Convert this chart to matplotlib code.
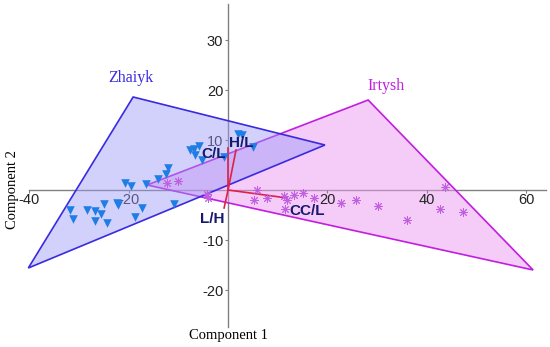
import matplotlib
matplotlib.use("Agg")
import matplotlib.pyplot as plt
from matplotlib.patches import Polygon

plt.rcParams['axes.unicode_minus'] = False

# PCA scores
zhaiyk_x = [-31.9, -31.2, -28.3, -26.8, -25.6, -26.8, -24.4, -24.9, -22.4, -22.1,
            -20.7, -19.6, -18.7, -17.4, -16.6, -14.0, -12.5, -12.0, -10.9, -7.6,
            -6.8, -5.8, -6.6, -5.3, -0.9, 2.1, 2.8, 5.1]
zhaiyk_y = [-3.9, -5.7, -4.0, -4.2, -4.7, -6.2, -6.5, -2.7, -2.5, -3.0,
            1.5, 0.9, -5.3, -3.5, 1.2, 2.3, 3.3, 4.5, -2.7, 8.0,
            8.3, 8.9, 7.1, 6.0, 6.7, 11.3, 11.0, 8.7]

irtysh_x = [-12.3, -10.1, -4.3, -4.0, 5.8, 5.2, 7.8, 11.2, 11.9, 11.5,
            13.3, 15.1, 17.3, 22.7, 25.7, 30.2, 36.1, 42.7, 43.7, 47.2]
irtysh_y = [1.5, 1.9, -0.7, -1.5, 0.1, -1.9, -1.6, -1.2, -1.9, -3.7,
            -1.0, -0.5, -1.6, -2.5, -2.0, -3.2, -5.9, -3.7, 0.7, -4.4]

# convex hulls
zhaiyk_hull = [(-40.2, -15.6), (-19.1, 18.6), (19.5, 9.0)]
irtysh_hull = [(-16.3, 1.0), (28.2, 18.0), (61.4, -16.0)]

# loadings
load_names = ["C/L", "H/L", "L/H", "CC/L"]
load_x = [0.0, 1.6, -0.8, 11.9]
load_y = [8.4, 8.0, -3.6, -1.6]
label_pos = [(-3.0, 7.2), (2.6, 9.4), (-3.2, -5.8), (16.0, -4.2)]

xticks = [-40, -20, 20, 40, 60]
yticks = [-20, -10, 10, 20, 30]

fig = plt.figure(figsize=(5.5, 3.47), dpi=100)
ax = fig.add_axes([0, 0, 1, 1])
ax.set_xlim(-45.9, 64.8)
ax.set_ylim(-31.4, 38.0)

ax.add_patch(Polygon(irtysh_hull, closed=True, facecolor=(0.93, 0.6, 0.95, 0.5),
                     edgecolor='#c21ee0', linewidth=1.2, zorder=1))
ax.add_patch(Polygon(zhaiyk_hull, closed=True, facecolor=(0.6, 0.6, 0.97, 0.45),
                     edgecolor='#3a2ae0', linewidth=1.2, zorder=2))

for i, name in enumerate(load_names):
    ax.plot([0, load_x[i]], [0, load_y[i]], color='#e0204a', lw=1.2, zorder=3)
    ax.text(label_pos[i][0], label_pos[i][1], name, ha='center', va='center',
            fontsize=11, fontweight='bold', color='#18186e',
            family='Liberation Sans', zorder=6)

ax.scatter(zhaiyk_x, zhaiyk_y, marker='v', s=38, color='#1f7de6',
           linewidths=0, zorder=4)
ax.scatter(irtysh_x, irtysh_y, marker=(8, 2, 0), s=32, color='#c060e0',
           linewidths=0.7, zorder=4)

ax.text(-19.5, 22.4, "Zhaiyk", color='#3a2ae0', fontsize=11.5,
        family='Liberation Serif', ha='center', va='center')
ax.text(31.8, 20.8, "Irtysh", color='#c21ee0', fontsize=11.5,
        family='Liberation Serif', ha='center', va='center')

# axes through the origin
for s in ['top', 'right']:
    ax.spines[s].set_visible(False)
ax.spines['left'].set_position(('data', 0))
ax.spines['bottom'].set_position(('data', 0))
ax.spines['left'].set_bounds(-27.4, 37.2)
ax.spines['bottom'].set_bounds(-40, 64)
for s in ['left', 'bottom']:
    ax.spines[s].set_color('#808080')
    ax.spines[s].set_linewidth(1.0)
    ax.spines[s].set_zorder(0.5)

ax.set_xticks(xticks)
ax.set_yticks(yticks)
ax.tick_params(axis='both', direction='out', length=2, width=0.8,
               colors='#808080', labelcolor='#222222')
ax.tick_params(axis='x', pad=0.5)
ax.tick_params(axis='y', pad=1.5)
for lab in ax.get_xticklabels() + ax.get_yticklabels():
    lab.set_family('Liberation Sans')
    lab.set_fontsize(10.5)

ax.text(0, -29.0, "Component 1", ha='center', va='center', fontsize=10.5,
        family='Liberation Serif')
ax.text(-43.4, 0, "Component 2", ha='center', va='center', rotation=90,
        fontsize=10.5, family='Liberation Serif')

fig.savefig("out.png", dpi=100)
